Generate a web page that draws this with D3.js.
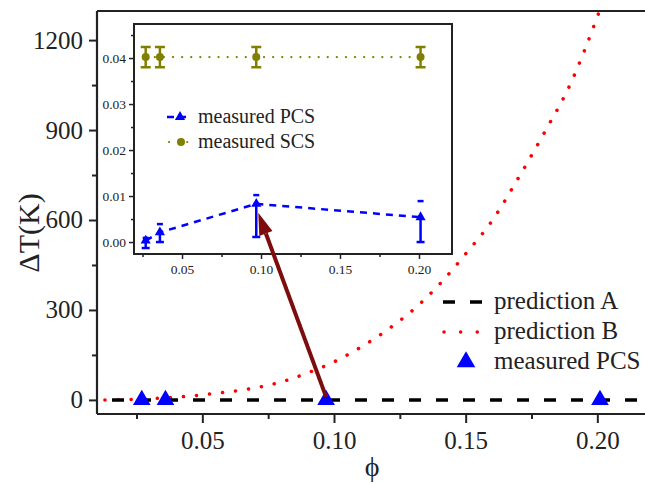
<!DOCTYPE html>
<html><head><meta charset="utf-8">
<script src="https://cdn.jsdelivr.net/npm/d3@7"></script>
<style>
html,body{margin:0;padding:0;background:#fff;}
</style></head>
<body><svg id="c" width="645" height="483" font-family="'Liberation Serif', 'DejaVu Serif', serif"></svg>
<script>
// ---- data ----
const mainXTicks = [0.05, 0.10, 0.15, 0.20];
const mainYTicks = [0, 300, 600, 900, 1200];
const predAPhi = [0.0157, 0.22];
const predA = [0, 0];
const predBPhi = [0.013, 0.02, 0.03, 0.04, 0.05, 0.06, 0.07, 0.08, 0.09, 0.10, 0.11, 0.12, 0.13, 0.14, 0.15, 0.16, 0.17, 0.18, 0.19, 0.20, 0.203];
const predB    = [0, 1, 4, 9, 17, 27, 40, 60, 90, 127, 175, 232, 300, 385, 487, 597, 740, 893, 1058, 1278, 1350];
const measPhi = [0.027, 0.036, 0.097, 0.201];
const measDT = [0, 0, 0, 0];
const insetXTicks = [0.05, 0.10, 0.15, 0.20];
const insetYTicks = [0.00, 0.01, 0.02, 0.03, 0.04];
const pcs = [0.0003, 0.0021, 0.0083, 0.0054];
const pcsErrLow = [0.0016, 0.0021, 0.0072, 0.0054];
const pcsErrHigh = [0.0006, 0.0018, 0.0019, 0.0035];
const scs = [0.0402, 0.0402, 0.0402, 0.0402];
const scsErr = [0.0022, 0.0022, 0.0022, 0.0022];
const mainLegend = ["prediction A", "prediction B", "measured PCS"];
const insetLegend = ["measured PCS", "measured SCS"];

const FONT = "'Liberation Serif', 'Times New Roman', 'DejaVu Serif', serif";
const BLUE = "#0000ff", RED = "#ff0000", OLIVE = "#808000", ARROW = "#7d0c0c", INK = "#222";
const svg = d3.select("#c");

// ---- main scales ----
const x = d3.scaleLinear().domain([0.01, 0.22]).range([97, 650]);
const y = d3.scaleLinear().domain([-47, 1297]).range([414, 11]);

svg.append("clipPath").attr("id","mclip").append("rect")
  .attr("x",97).attr("y",11).attr("width",553).attr("height",403);

const axW = 2.2;
svg.append("line").attr("x1",97).attr("x2",650).attr("y1",11).attr("y2",11).attr("stroke",INK).attr("stroke-width",axW);

const xAxis = d3.axisBottom(x).tickValues(mainXTicks).tickFormat(d3.format(".2f")).tickSize(9).tickPadding(8);
const gx = svg.append("g").attr("transform","translate(0,414)").call(xAxis);
const yAxis = d3.axisLeft(y).tickValues(mainYTicks).tickFormat(d3.format("d")).tickSize(8).tickPadding(6);
const gy = svg.append("g").attr("transform","translate(97,0)").call(yAxis);
[gx, gy].forEach(g => {
  g.attr("font-family", FONT);
  g.select(".domain").attr("stroke",INK).attr("stroke-width",axW);
  g.selectAll(".tick line").attr("stroke",INK).attr("stroke-width",2);
  g.selectAll("text").style("font-size","25px").attr("fill",INK);
});
gx.select(".domain").attr("d","M97,0H650");
gy.select(".domain").attr("d","M0,414V11");
const xMinor = d3.axisBottom(x).tickValues([0.025,0.075,0.125,0.175]).tickSize(5).tickFormat("");
const gxm = svg.append("g").attr("transform","translate(0,414)").call(xMinor);
gxm.select(".domain").remove(); gxm.selectAll("line").attr("stroke",INK).attr("stroke-width",2);
const yMinor = d3.axisLeft(y).tickValues([150,450,750,1050]).tickSize(5).tickFormat("");
const gym = svg.append("g").attr("transform","translate(97,0)").call(yMinor);
gym.select(".domain").remove(); gym.selectAll("line").attr("stroke",INK).attr("stroke-width",2);

svg.append("text").attr("x",372).attr("y",476).attr("text-anchor","middle").style("font-size","28px").text("ϕ");
svg.append("text").attr("transform","translate(39,233) rotate(-90)").attr("text-anchor","middle").style("font-size","30px").text("ΔT(K)");

const dataG = svg.append("g").attr("clip-path","url(#mclip)");
const line = d3.line().x(d=>x(d[0])).y(d=>y(d[1]));
dataG.append("path").datum(predBPhi.map((p,i)=>[p,predB[i]]))
  .attr("d", d3.line().x(d=>x(d[0])).y(d=>y(d[1])).curve(d3.curveMonotoneX))
  .attr("fill","none").attr("stroke",RED).attr("stroke-width",3.5)
  .attr("stroke-dasharray","0.1,13").attr("stroke-linecap","round");
dataG.append("path").datum(predAPhi.map((p,i)=>[p,predA[i]]))
  .attr("d", line).attr("fill","none").attr("stroke","#000").attr("stroke-width",3.5)
  .attr("stroke-dasharray","12,15");
const tri = d3.symbol().type(d3.symbolTriangle);
dataG.selectAll(".mt").data(measPhi).enter().append("path")
  .attr("d", tri.size(135)()).attr("fill",BLUE)
  .attr("transform",(d,i)=>`translate(${x(d)},${y(measDT[i])})`);

const lg = svg.append("g");
const ly = [302, 332, 362];
lg.append("line").attr("x1",443).attr("x2",483).attr("y1",ly[0]).attr("y2",ly[0])
  .attr("stroke","#000").attr("stroke-width",3.5).attr("stroke-dasharray","12,15");
lg.append("line").attr("x1",444).attr("x2",480).attr("y1",ly[1]).attr("y2",ly[1])
  .attr("stroke",RED).attr("stroke-width",3.5).attr("stroke-dasharray","0.1,16.5").attr("stroke-linecap","round");
lg.append("path").attr("d", tri.size(150)()).attr("fill",BLUE).attr("transform",`translate(466,${ly[2]})`);
mainLegend.forEach((t,i)=>{
  lg.append("text").attr("x",494).attr("y",ly[i]+7).style("font-size","25px").text(t);
});

// ---- inset ----
const xi = d3.scaleLinear().domain([0.0196, 0.2209]).range([134, 452]);
const yi = d3.scaleLinear().domain([-0.0026, 0.0474]).range([254, 24]);
svg.append("rect").attr("x",134).attr("y",24).attr("width",318).attr("height",230)
  .attr("fill","#fff").attr("stroke",INK).attr("stroke-width",2);
const gxi = svg.append("g").attr("transform","translate(0,254)")
  .call(d3.axisBottom(xi).tickValues(insetXTicks).tickFormat(d3.format(".2f")).tickSize(5).tickPadding(5));
const gyi = svg.append("g").attr("transform","translate(134,0)")
  .call(d3.axisLeft(yi).tickValues(insetYTicks).tickFormat(d3.format(".2f")).tickSize(5).tickPadding(3));
[gxi, gyi].forEach(g=>{
  g.attr("font-family", FONT);
  g.select(".domain").remove();
  g.selectAll(".tick line").attr("stroke",INK).attr("stroke-width",1.5);
  g.selectAll("text").style("font-size","13.5px").attr("fill",INK);
});
const gxim = svg.append("g").attr("transform","translate(0,254)")
  .call(d3.axisBottom(xi).tickValues([0.025,0.075,0.125,0.175]).tickSize(3).tickFormat(""));
const gyim = svg.append("g").attr("transform","translate(134,0)")
  .call(d3.axisLeft(yi).tickValues([0.005,0.015,0.025,0.035,0.045]).tickSize(3).tickFormat(""));
[gxim, gyim].forEach(g=>{ g.select(".domain").remove(); g.selectAll("line").attr("stroke",INK).attr("stroke-width",1.5); });

svg.append("path").datum(measPhi.map((p,i)=>[p,scs[i]]))
  .attr("d", d3.line().x(d=>xi(d[0])).y(d=>yi(d[1])))
  .attr("fill","none").attr("stroke",OLIVE).attr("stroke-width",2.2)
  .attr("stroke-dasharray","0.1,9").attr("stroke-linecap","round");
measPhi.forEach((p,i)=>{
  const cx = xi(p), y1 = yi(scs[i]-scsErr[i]), y2 = yi(scs[i]+scsErr[i]);
  const g = svg.append("g").attr("stroke",OLIVE).attr("stroke-width",2.5);
  g.append("line").attr("x1",cx).attr("x2",cx).attr("y1",y1).attr("y2",y2);
  g.append("line").attr("x1",cx-5).attr("x2",cx+5).attr("y1",y1).attr("y2",y1);
  g.append("line").attr("x1",cx-5).attr("x2",cx+5).attr("y1",y2).attr("y2",y2);
  svg.append("circle").attr("cx",cx).attr("cy",yi(scs[i])).attr("r",4).attr("fill",OLIVE);
});
svg.append("path").datum(measPhi.map((p,i)=>[p,pcs[i]]))
  .attr("d", d3.line().x(d=>xi(d[0])).y(d=>yi(d[1])))
  .attr("fill","none").attr("stroke",BLUE).attr("stroke-width",2.5)
  .attr("stroke-dasharray","7,6");
measPhi.forEach((p,i)=>{
  const cx = xi(p), y1 = yi(pcs[i]-pcsErrLow[i]), y2 = yi(pcs[i]+pcsErrHigh[i]);
  const g = svg.append("g").attr("stroke",BLUE).attr("stroke-width",2.5);
  g.append("line").attr("x1",cx).attr("x2",cx).attr("y1",y1).attr("y2",yi(pcs[i]));
  g.append("line").attr("x1",cx-4).attr("x2",cx+4).attr("y1",y1).attr("y2",y1);
  g.append("line").attr("x1",cx-3).attr("x2",cx+3).attr("y1",y2).attr("y2",y2);
  svg.append("path").attr("d", tri.size(45)()).attr("fill",BLUE)
    .attr("transform",`translate(${cx},${yi(pcs[i])})`);
});
const il = [117, 142];
svg.append("line").attr("x1",167).attr("x2",190).attr("y1",il[0]).attr("y2",il[0])
  .attr("stroke",BLUE).attr("stroke-width",2.5).attr("stroke-dasharray","7,5");
svg.append("path").attr("d", tri.size(45)()).attr("fill",BLUE).attr("transform",`translate(180,${il[0]})`);
svg.append("line").attr("x1",169).attr("x2",189).attr("y1",il[1]).attr("y2",il[1])
  .attr("stroke",OLIVE).attr("stroke-width",2.2).attr("stroke-dasharray","0.1,9").attr("stroke-linecap","round");
svg.append("circle").attr("cx",181).attr("cy",il[1]).attr("r",4).attr("fill",OLIVE);
insetLegend.forEach((t,i)=>{
  svg.append("text").attr("x",198).attr("y",il[i]+6).style("font-size","20px").text(t);
});

const sx = x(measPhi[2]), sy = y(measDT[2]) - 3;
const tx = xi(measPhi[2]) + 2, ty = yi(pcs[2]) + 9;
const ang = Math.atan2(ty - sy, tx - sx);
const L = 22, W = 7;
const bx = tx - L*Math.cos(ang), by = ty - L*Math.sin(ang);
svg.append("line").attr("x1",sx).attr("y1",sy).attr("x2",bx).attr("y2",by)
  .attr("stroke",ARROW).attr("stroke-width",4);
svg.append("path").attr("d",
  `M${tx},${ty}L${bx + W*Math.sin(ang)},${by - W*Math.cos(ang)}L${bx - W*Math.sin(ang)},${by + W*Math.cos(ang)}Z`)
  .attr("fill",ARROW);

svg.selectAll("text").style("font-family", FONT).attr("fill", INK);
</script></body></html>
